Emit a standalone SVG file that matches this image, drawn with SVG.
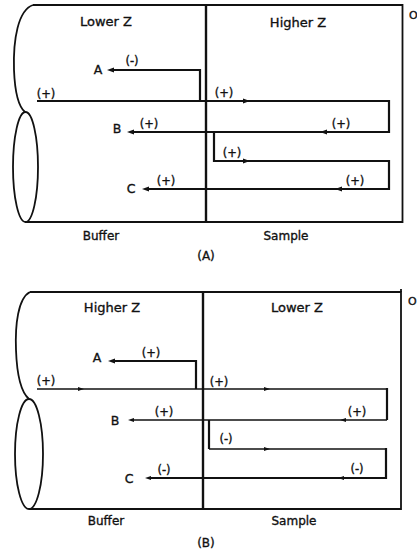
<svg xmlns="http://www.w3.org/2000/svg" xmlns:xlink="http://www.w3.org/1999/xlink" width="417" height="554" viewBox="0 0 417 554">
  <style>
    .body { fill: none; stroke: #111; stroke-width: 1.8; }
    .wall { fill: none; stroke: #111; stroke-width: 2.4; }
    .thick { fill: none; stroke: #111; stroke-width: 2.2; }
    .thin { fill: none; stroke: #111; stroke-width: 1.3; }
    text { font-family: "DejaVu Sans", "Liberation Sans", sans-serif; fill: #111; stroke: #111; stroke-width: 0.35; }
    .zone { font-size: 13px; text-anchor: middle; }
    .sign { font-size: 11.5px; text-anchor: middle; }
    .tag { font-size: 12.5px; text-anchor: middle; }
    .cap { font-size: 12px; text-anchor: middle; }
  </style>
  <defs>
    <polygon id="ahL" points="0,0 7,-2.6 7,2.6" fill="#111"/>
    <polygon id="ahR" points="0,0 -7,-2.6 -7,2.6" fill="#111"/>
    <polygon id="ahLs" points="0,0 6,-2 6,2" fill="#111"/>
    <polygon id="ahRs" points="0,0 -6,-2 -6,2" fill="#111"/>
  </defs>

  <!-- ===== Panel A ===== -->
  <g id="tubeA">
    <path class="body" d="M33,5 H402.5 V222 H25"/>
    <path class="body" d="M33,5 C18,10 13,40 14,70 C15,95 19,107 25,112"/>
    <ellipse class="body" cx="25.5" cy="167" rx="12.5" ry="55"/>
    <line class="wall" x1="206" y1="5" x2="206" y2="222"/>
    <text x="409" y="19" style="font-size:11px">O</text>
  </g>
  <g id="labelsA">
    <text class="zone" x="106" y="26">Lower Z</text>
    <text class="zone" x="298" y="27">Higher Z</text>
    <text class="cap" x="101" y="240">Buffer</text>
    <text class="cap" x="286" y="240">Sample</text>
    <text class="cap" x="206" y="260">(A)</text>
  </g>
  <g id="connectorsA">
    <path class="thick" d="M200,101 V70 H112"/>
    <path class="thick" d="M37,101 H389 V132 H132"/>
    <path class="thick" d="M214,132 V161 H389 V189 H147"/>
    <use xlink:href="#ahL" x="107" y="70"/>
    <use xlink:href="#ahL" x="127" y="132"/>
    <use xlink:href="#ahL" x="142" y="189"/>
    <use xlink:href="#ahR" x="250" y="101"/>
    <use xlink:href="#ahL" x="320" y="132"/>
    <use xlink:href="#ahR" x="250" y="161"/>
    <use xlink:href="#ahL" x="335" y="189"/>
  </g>
  <g id="nodesA">
    <text class="tag" x="98" y="74">A</text>
    <text class="tag" x="117" y="133">B</text>
    <text class="tag" x="131" y="193">C</text>
    <text class="sign" x="132" y="65">(-)</text>
    <text class="sign" x="46" y="98">(+)</text>
    <text class="sign" x="224" y="97">(+)</text>
    <text class="sign" x="149" y="128">(+)</text>
    <text class="sign" x="341" y="128">(+)</text>
    <text class="sign" x="232" y="157">(+)</text>
    <text class="sign" x="166" y="185">(+)</text>
    <text class="sign" x="355" y="185">(+)</text>
  </g>

  <!-- ===== Panel B ===== -->
  <g id="tubeB">
    <path class="body" d="M30,292 H401 V509 H29"/>
    <path class="body" d="M30,292 C18,298 15,325 16,350 C17,378 22,393 29,399"/>
    <ellipse class="body" cx="29" cy="454" rx="14" ry="55"/>
    <line class="wall" x1="203" y1="292" x2="203" y2="509"/>
    <line class="body" x1="401" y1="289" x2="401" y2="292"/>
    <text x="408" y="305" style="font-size:11px">O</text>
  </g>
  <g id="labelsB">
    <text class="zone" x="112" y="312">Higher Z</text>
    <text class="zone" x="297" y="312">Lower Z</text>
    <text class="cap" x="106" y="525">Buffer</text>
    <text class="cap" x="294" y="525">Sample</text>
    <text class="cap" x="206" y="547">(B)</text>
  </g>
  <g id="connectorsB">
    <path class="thick" d="M196,389 V361 H112"/>
    <path class="thin" d="M37,389 H387"/>
    <path class="thick" d="M387,388 V420"/>
    <path class="thin" d="M387,420 H132"/>
    <path class="thick" d="M209,420 V449"/>
    <path class="thin" d="M209,449 H386"/>
    <path class="thick" d="M386,448 V478 H149"/>
    <use xlink:href="#ahL" x="108" y="361"/>
    <use xlink:href="#ahLs" x="128" y="420"/>
    <use xlink:href="#ahLs" x="145" y="478"/>
    <use xlink:href="#ahRs" x="84" y="389"/>
    <use xlink:href="#ahRs" x="270" y="389"/>
    <use xlink:href="#ahLs" x="340" y="420"/>
    <use xlink:href="#ahRs" x="270" y="449"/>
    <use xlink:href="#ahLs" x="338" y="478"/>
  </g>
  <g id="nodesB">
    <text class="tag" x="97" y="362">A</text>
    <text class="tag" x="115" y="425">B</text>
    <text class="tag" x="129" y="483">C</text>
    <text class="sign" x="151" y="357">(+)</text>
    <text class="sign" x="46" y="385">(+)</text>
    <text class="sign" x="219" y="386">(+)</text>
    <text class="sign" x="164" y="416">(+)</text>
    <text class="sign" x="357" y="416">(+)</text>
    <text class="sign" x="226" y="443">(-)</text>
    <text class="sign" x="164" y="474">(-)</text>
    <text class="sign" x="357" y="473">(-)</text>
  </g>
</svg>
